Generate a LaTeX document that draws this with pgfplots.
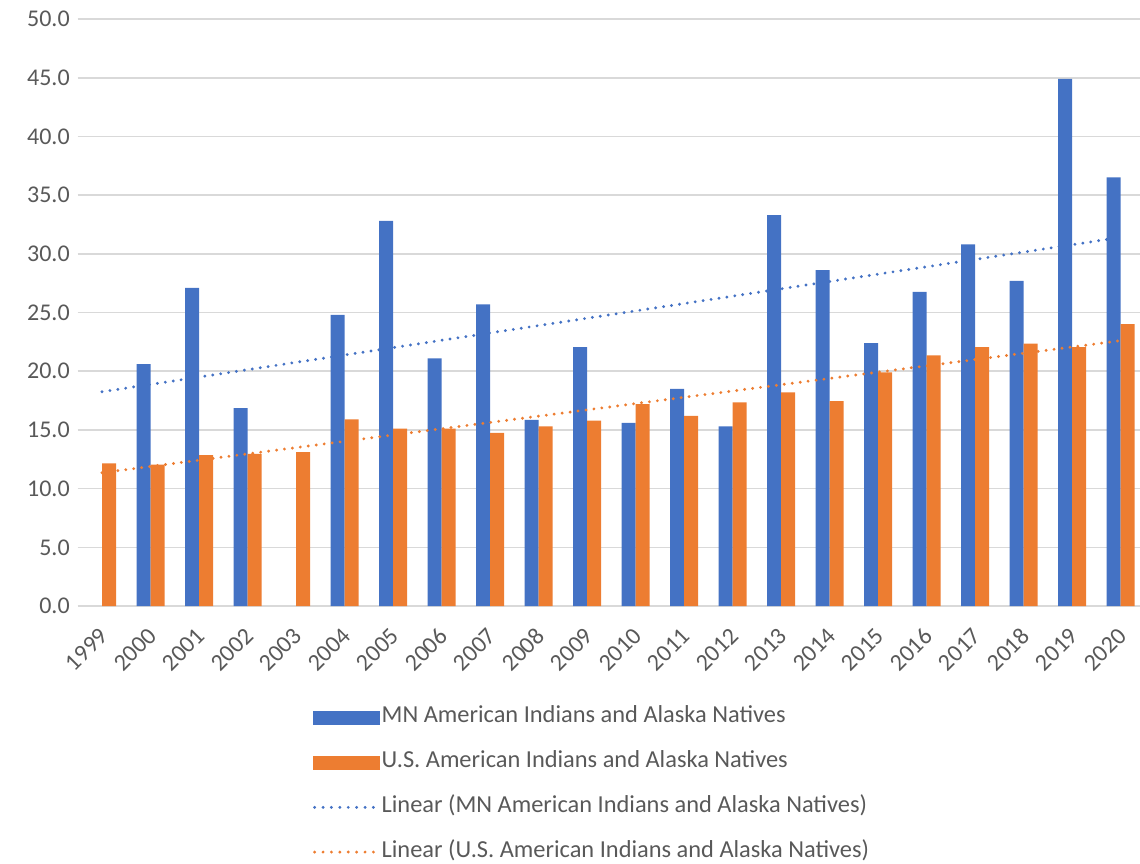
\documentclass[border=0pt]{standalone}
\usepackage{pgfplots}
\pgfplotsset{compat=1.18}
\usepackage{fontspec}
\setmainfont{Carlito}
\definecolor{mnblue}{RGB}{68,114,196}
\definecolor{usorange}{RGB}{237,125,49}
\definecolor{txtgray}{RGB}{89,89,89}
\definecolor{gridgray}{RGB}{217,217,217}
\begin{document}
\begin{tikzpicture}
\path[use as bounding box] (-38.875pt,-128.5pt) rectangle (531.125pt,303pt);
\begin{axis}[
  at={(0,0)}, anchor=south west,
  scale only axis,
  width=531.125pt, height=293.5pt,
  xmin=-0.5, xmax=21.4,
  ymin=0, ymax=50,
  ytick={0,5,...,50},
  xtick={0,...,21},
  xticklabels={1999,2000,2001,2002,2003,2004,2005,2006,2007,2008,2009,2010,2011,2012,2013,2014,2015,2016,2017,2018,2019,2020},
  major tick length=0pt,
  axis line style={draw=none},
  ymajorgrids,
  grid style={gridgray, line width=0.8pt},
  clip=false,
  font=\fontsize{12}{14.4}\selectfont,
  tick label style={txtgray},
  /pgf/number format/fixed, /pgf/number format/fixed zerofill, /pgf/number format/precision=1,
  /pgf/number format/assume math mode=true,
  yticklabel style={xshift=-0.5pt},
  xticklabel style={xshift=1pt, yshift=-13pt, rotate=45, anchor=east, inner sep=0pt},
  legend style={at={(0.2215,-0.172)}, anchor=north west, draw=none, fill=none,
    inner sep=0pt, outer sep=0pt, row sep=11.35pt, text=txtgray,
    font=\fontsize{12.2}{14.6}\selectfont,
    nodes={inner sep=0pt, text height=8pt, text depth=3pt},
    /tikz/every even column/.append style={column sep=3.5pt}},
  legend cell align=left,
]
\addplot[ybar, bar width=7pt, bar shift=-3.5pt, fill=mnblue, draw=none,
  legend image code/.code={\fill[mnblue] (0pt,-3.5pt) rectangle (33.5pt,3.5pt);}]
  coordinates {(1,20.6) (2,27.1) (3,16.85) (5,24.8) (6,32.8) (7,21.1) (8,25.7) (9,15.85) (10,22.05) (11,15.6)
  (12,18.5) (13,15.3) (14,33.3) (15,28.6) (16,22.4) (17,26.75) (18,30.8) (19,27.7) (20,44.9) (21,36.5)};
\addlegendentry{MN American Indians and Alaska Natives}
\addplot[ybar, bar width=7pt, bar shift=3.5pt, fill=usorange, draw=none,
  legend image code/.code={\fill[usorange] (0pt,-3.5pt) rectangle (33.5pt,3.5pt);}]
  coordinates {(0,12.15) (1,12.05) (2,12.85) (3,12.95) (4,13.1) (5,15.9) (6,15.1) (7,15.1) (8,14.75) (9,15.3) (10,15.8)
  (11,17.2) (12,16.2) (13,17.35) (14,18.2) (15,17.45) (16,19.9) (17,21.35) (18,22.05) (19,22.35) (20,22.05) (21,24.0)};
\addlegendentry{U.S. American Indians and Alaska Natives}
\addplot[mnblue, line width=1.6pt, line cap=round, dash pattern=on 0pt off 4pt, mark=none,
  legend image code/.code={\draw[mnblue, line width=1.6pt, line cap=round, dash pattern=on 0pt off 4.2pt] (0.8pt,0pt) -- (33.5pt,0pt);}]
  coordinates {(0,18.25) (21,31.4)};
\addlegendentry{Linear (MN American Indians and Alaska Natives)}
\addplot[usorange, line width=1.6pt, line cap=round, dash pattern=on 0pt off 4pt, mark=none,
  legend image code/.code={\draw[usorange, line width=1.6pt, line cap=round, dash pattern=on 0pt off 4.2pt] (0.8pt,0pt) -- (33.5pt,0pt);}]
  coordinates {(0,11.35) (21,22.6)};
\addlegendentry{Linear (U.S. American Indians and Alaska Natives)}
\end{axis}
\end{tikzpicture}
\end{document}
